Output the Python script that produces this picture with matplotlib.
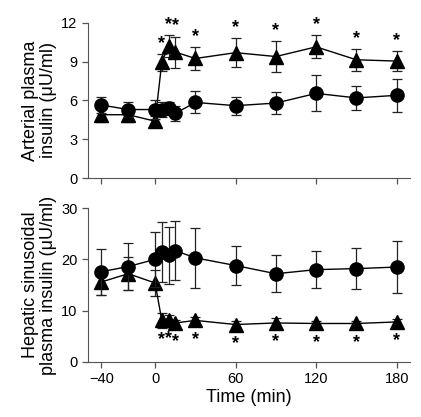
import numpy as np
import matplotlib.pyplot as plt

plt.rcParams['font.family'] = ['Liberation Sans', 'DejaVu Sans']

time = [-40, -20, 0, 5, 10, 15, 30, 60, 90, 120, 150, 180]

# arterial plasma insulin (uU/ml)
art_circ = [5.65, 5.3, 5.3, 5.3, 5.4, 5.0, 5.85, 5.6, 5.8, 6.55, 6.2, 6.4]
art_circ_err = [0.65, 0.55, 0.7, 0.6, 0.5, 0.6, 0.85, 0.7, 0.85, 1.4, 0.95, 1.3]
art_tri = [4.9, 4.9, 4.4, 8.95, 10.25, 9.75, 9.25, 9.7, 9.4, 10.15, 9.15, 9.05]
art_tri_err = [0.6, 0.6, 0.4, 0.65, 0.85, 1.2, 0.9, 1.1, 1.2, 0.9, 0.85, 0.8]

# hepatic sinusoidal plasma insulin (uU/ml)
hep_circ = [17.6, 18.6, 20.0, 21.4, 20.8, 21.7, 20.3, 18.8, 17.2, 18.0, 18.2, 18.5]
hep_circ_err = [4.5, 4.5, 5.4, 5.9, 5.6, 5.7, 5.9, 3.8, 3.6, 3.6, 4.0, 5.0]
hep_tri = [15.6, 17.2, 15.4, 8.1, 8.2, 7.6, 8.1, 7.3, 7.6, 7.5, 7.5, 7.8]
hep_tri_err = [2.6, 3.2, 2.5, 1.4, 0.9, 0.6, 0.6, 0.6, 0.9, 0.5, 0.5, 0.5]

star_times = [5, 10, 15, 30, 60, 90, 120, 150, 180]

fig = plt.figure(figsize=(4.21, 4.17), dpi=100)
ax1 = fig.add_axes([0.209, 0.573, 0.765, 0.372])
ax2 = fig.add_axes([0.209, 0.132, 0.765, 0.369])

ebkw = dict(color='black', lw=1.0, elinewidth=0.9, ecolor='#222222', capsize=3.5, capthick=0.9)

for ax, circ, cerr, tri, terr in [(ax1, art_circ, art_circ_err, art_tri, art_tri_err),
                                  (ax2, hep_circ, hep_circ_err, hep_tri, hep_tri_err)]:
    ax.errorbar(time, tri, yerr=terr, marker='^', ms=10, mfc='black', mec='black', zorder=2, **ebkw)
    ax.errorbar(time, circ, yerr=cerr, marker='o', ms=9.5, mfc='black', mec='black', zorder=3, **ebkw)
    ax.set_xlim(-50, 190)
    ax.set_xticks([-40, 0, 60, 120, 180])
    for s in ['top', 'right']:
        ax.spines[s].set_visible(False)
    ax.spines['left'].set_color('#555555')
    ax.spines['bottom'].set_color('#555555')
    ax.tick_params(direction='out', length=4, width=0.9, color='#555555', labelsize=10.5)

# asterisks above / below the significant points
for t in star_times:
    i = time.index(t)
    ax1.text(t, art_tri[i] + art_tri_err[i] + 0.15, '*', ha='center', va='bottom', fontsize=13, fontweight='bold')
    ax2.text(t, hep_tri[i] - 2.0, '*', ha='center', va='top', fontsize=13, fontweight='bold')

ax1.set_ylim(0, 12)
ax1.set_yticks([0, 3, 6, 9, 12])
ax1.tick_params(axis='x', labelbottom=False)
ax1.set_ylabel('Arterial plasma\ninsulin (\u03bcU/ml)', fontsize=13, linespacing=1.1, labelpad=3)

ax2.set_ylim(0, 30)
ax2.set_yticks([0, 10, 20, 30])
ax2.set_xticklabels(['\u221240', '0', '60', '120', '180'])
ax2.set_ylabel('Hepatic sinusoidal\nplasma insulin (\u03bcU/ml)', fontsize=13, linespacing=1.1, labelpad=3)
ax2.set_xlabel('Time (min)', fontsize=13, labelpad=2)

fig.savefig('out.png', dpi=100)
